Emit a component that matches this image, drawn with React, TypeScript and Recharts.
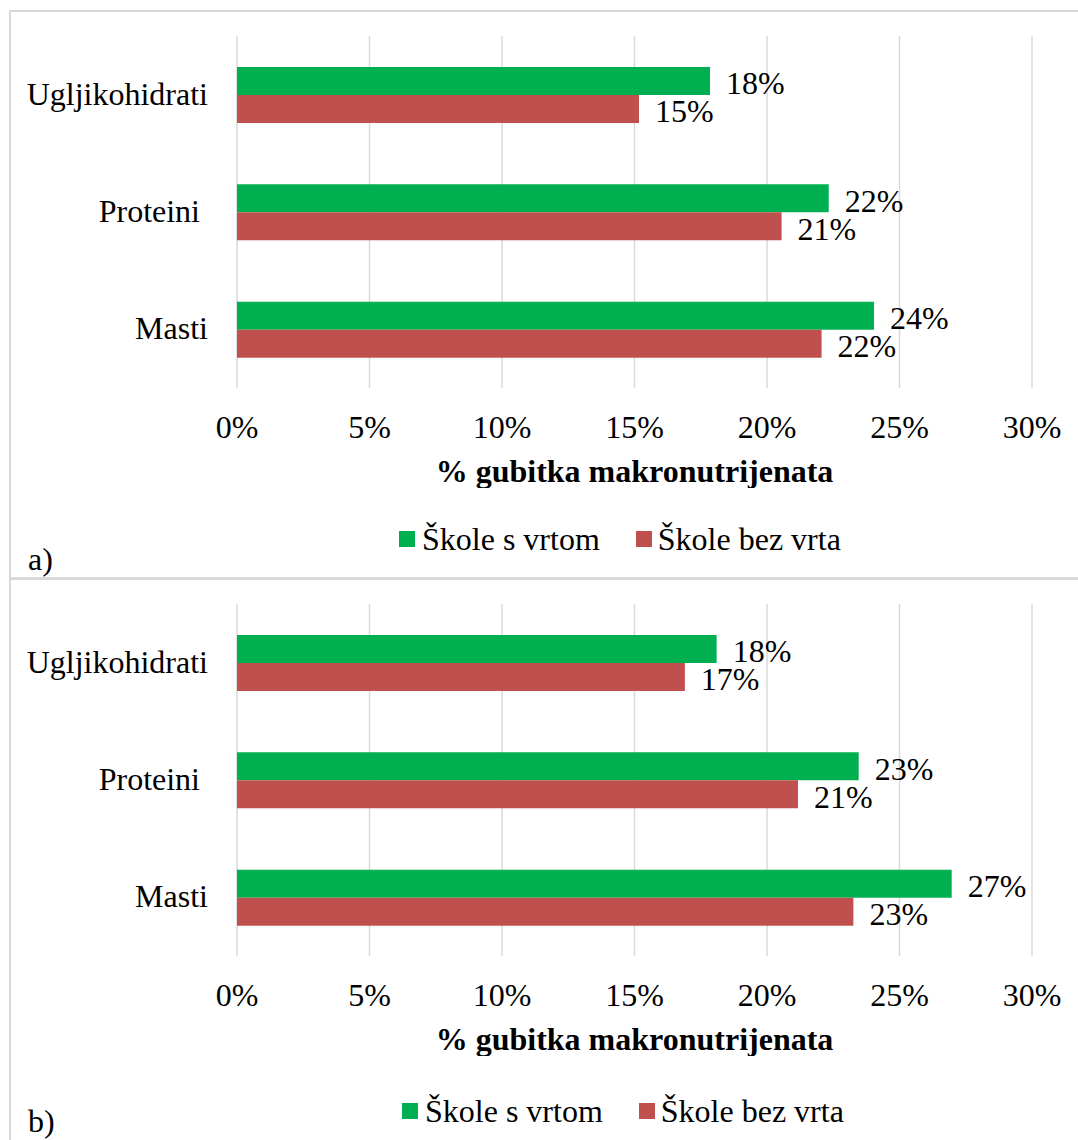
import React from "react";
import {
  BarChart,
  Bar,
  XAxis,
  YAxis,
  CartesianGrid,
  LabelList,
} from "recharts";

const categories = ["Ugljikohidrati", "Proteini", "Masti"];
const seriesNames = ["Škole s vrtom", "Škole bez vrta"];

// panel a)
const gardenA = [17.85, 22.33, 24.04];
const noGardenA = [15.17, 20.55, 22.06];

// panel b)
const gardenB = [18.1, 23.46, 26.97];
const noGardenB = [16.9, 21.17, 23.26];

const xTicks = [0, 5, 10, 15, 20, 25, 30];
const axisTitle = "% gubitka makronutrijenata";

const GREEN = "#00b050";
const RED = "#c0504d";
const GRID = "#d9d9d9";
const FONT = '"Liberation Serif", "Times New Roman", serif';
const FS = 32;

const pct = (v: number) => `${Math.round(v)}%`;

function CategoryTick(props: any) {
  const { x, y, payload } = props;
  // "Proteini" sits a bit left in the original (trailing space)
  const label = payload.value === "Proteini" ? "Proteini\u00a0" : payload.value;
  return (
    <text
      x={x}
      y={y}
      dy={10}
      textAnchor="end"
      fill="#000"
      fontSize={FS}
      fontFamily={FONT}
    >
      {label}
    </text>
  );
}

function Panel({
  garden,
  noGarden,
  top,
  tag,
  legendTop,
  legendLeft,
  tagTop,
}: {
  garden: number[];
  noGarden: number[];
  top: number;
  tag: string;
  legendTop: number;
  legendLeft: number;
  tagTop: number;
}) {
  const rows = categories.map((name, i) => ({
    name,
    garden: garden[i],
    noGarden: noGarden[i],
  }));

  return (
    <div style={{ position: "absolute", left: 0, top, width: 1078, height: 572 }}>
      <BarChart
        width={1078}
        height={488}
        data={rows}
        layout="vertical"
        barGap={0}
        barSize={28}
        margin={{ top: 36, right: 46, bottom: 0, left: 0 }}
        style={{ fontFamily: FONT }}
      >
        <CartesianGrid horizontal={false} stroke={GRID} strokeWidth={1.5} />
        <XAxis
          type="number"
          domain={[0, 30]}
          ticks={xTicks}
          tickFormatter={(v: number) => `${v}%`}
          axisLine={false}
          tickLine={false}
          tickMargin={21}
          height={100}
          tick={{ fill: "#000", fontSize: FS, fontFamily: FONT }}
          label={{
            value: axisTitle,
            position: "insideBottom",
            offset: 6,
            fill: "#000",
            fontSize: FS,
            fontWeight: "bold",
            fontFamily: FONT,
          }}
        />
        <YAxis
          type="category"
          dataKey="name"
          width={237}
          axisLine={false}
          tickLine={false}
          tickMargin={23}
          tick={<CategoryTick />}
        />
        <Bar dataKey="garden" name={seriesNames[0]} fill={GREEN} isAnimationActive={false}>
          <LabelList
            dataKey="garden"
            position="right"
            offset={16}
            formatter={(v: any) => pct(Number(v))}
            fill="#000"
            fontSize={FS}
            fontFamily={FONT}
            dy={2}
          />
        </Bar>
        <Bar dataKey="noGarden" name={seriesNames[1]} fill={RED} isAnimationActive={false}>
          <LabelList
            dataKey="noGarden"
            position="right"
            offset={16}
            formatter={(v: any) => pct(Number(v))}
            fill="#000"
            fontSize={FS}
            fontFamily={FONT}
            dy={2}
          />
        </Bar>
      </BarChart>

      {/* legend */}
      <div
        style={{
          position: "absolute",
          left: legendLeft,
          top: legendTop,
          display: "flex",
          alignItems: "center",
          fontFamily: FONT,
          fontSize: FS,
          lineHeight: `${FS}px`,
          color: "#000",
          whiteSpace: "nowrap",
        }}
      >
        <span style={{ width: 16, height: 16, background: GREEN, marginRight: 7 }} />
        <span>{seriesNames[0]}</span>
        <span style={{ width: 16, height: 16, background: RED, marginLeft: 36, marginRight: 6 }} />
        <span>{seriesNames[1]}</span>
      </div>

      <div
        style={{
          position: "absolute",
          left: 28,
          top: tagTop,
          fontFamily: FONT,
          fontSize: FS,
          lineHeight: `${FS}px`,
          color: "#000",
        }}
      >
        {tag}
      </div>
    </div>
  );
}

export default function App() {
  return (
    <div
      style={{
        position: "absolute",
        left: 0,
        top: 0,
        width: 1078,
        height: 1140,
        background: "#fff",
        overflow: "hidden",
      }}
    >
      {/* frame lines */}
      <div style={{ position: "absolute", left: 9, top: 10, width: 2, height: 1130, background: GRID }} />
      <div style={{ position: "absolute", left: 9, top: 10, width: 1069, height: 2, background: GRID }} />
      <div style={{ position: "absolute", left: 9, top: 577, width: 1069, height: 3, background: GRID }} />

      <Panel
        garden={gardenA}
        noGarden={noGardenA}
        top={0}
        tag="a)"
        legendTop={523}
        legendLeft={399}
        tagTop={543}
      />
      <Panel
        garden={gardenB}
        noGarden={noGardenB}
        top={568}
        tag="b)"
        legendTop={527}
        legendLeft={402}
        tagTop={537}
      />
    </div>
  );
}
